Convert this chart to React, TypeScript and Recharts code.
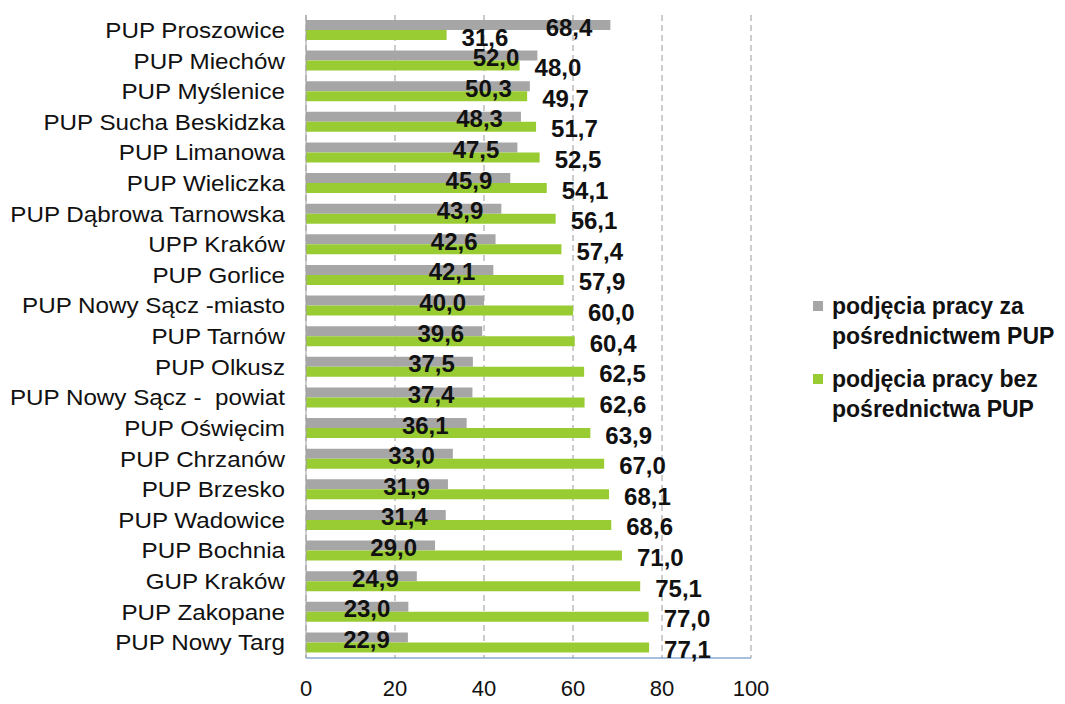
import React from 'react';
import { BarChart, Bar, XAxis, YAxis, CartesianGrid, LabelList } from 'recharts';

const offices = [
  'PUP Proszowice', 'PUP Miechów', 'PUP Myślenice', 'PUP Sucha Beskidzka', 'PUP Limanowa',
  'PUP Wieliczka', 'PUP Dąbrowa Tarnowska', 'UPP Kraków', 'PUP Gorlice', 'PUP Nowy Sącz -miasto',
  'PUP Tarnów', 'PUP Olkusz', 'PUP Nowy Sącz -  powiat', 'PUP Oświęcim', 'PUP Chrzanów',
  'PUP Brzesko', 'PUP Wadowice', 'PUP Bochnia', 'GUP Kraków', 'PUP Zakopane', 'PUP Nowy Targ',
];

const viaPup = [68.4, 52.0, 50.3, 48.3, 47.5, 45.9, 43.9, 42.6, 42.1, 40.0, 39.6, 37.5, 37.4, 36.1, 33.0, 31.9, 31.4, 29.0, 24.9, 23.0, 22.9];
const withoutPup = [31.6, 48.0, 49.7, 51.7, 52.5, 54.1, 56.1, 57.4, 57.9, 60.0, 60.4, 62.5, 62.6, 63.9, 67.0, 68.1, 68.6, 71.0, 75.1, 77.0, 77.1];

const xTicks = [0, 20, 40, 60, 80, 100];

const seriesNames = ['podjęcia pracy za pośrednictwem PUP', 'podjęcia pracy bez pośrednictwa PUP'];
const legendLines = [
  ['podjęcia pracy za', 'pośrednictwem PUP'],
  ['podjęcia pracy bez', 'pośrednictwa PUP'],
];

const GREY = '#A6A6A6';
const GREEN = '#99CC33';
const FONT = '"Liberation Sans", Arial, sans-serif';

const data = offices.map((name, i) => ({ name, via: viaPup[i], without: withoutPup[i] }));

const fmt = (v: number) => v.toFixed(1).replace('.', ',');

// Data labels: grey ones sit inside the bar end, green ones just past it
const GreyLabel = (props: any) => {
  const { x, y, width, height, value } = props;
  return (
    <text x={x + width - 18} y={y + height / 2 + 2} textAnchor="end" dominantBaseline="central"
      fontFamily={FONT} fontSize={24} fontWeight="bold" fill="#111">
      {fmt(value)}
    </text>
  );
};

const GreenLabel = (props: any) => {
  const { x, y, width, height, value } = props;
  return (
    <text x={x + width + 15} y={y + height / 2 + 2} textAnchor="start" dominantBaseline="central"
      fontFamily={FONT} fontSize={24} fontWeight="bold" fill="#111">
      {fmt(value)}
    </text>
  );
};

const CategoryTick = (props: any) => {
  const { x, y, payload } = props;
  return (
    <text transform={`translate(${x - 13},${y}) scale(1.1,1)`} x={0} y={0} textAnchor="end"
      dominantBaseline="central" fontFamily={FONT} fontSize={22} fill="#111" style={{ whiteSpace: 'pre' }}>
      {payload.value}
    </text>
  );
};

const ValueTick = (props: any) => {
  const { x, y, payload } = props;
  return (
    <text x={x} y={y + 22} textAnchor="middle" dominantBaseline="central"
      fontFamily={FONT} fontSize={22} fill="#111">
      {payload.value}
    </text>
  );
};

export default function App() {
  return (
    <div style={{ position: 'absolute', left: 0, top: 0, width: 1065, height: 704, background: '#fff' }}>
      <BarChart
        width={1065}
        height={704}
        data={data}
        layout="vertical"
        margin={{ top: 15, right: 314, bottom: 0, left: 0 }}
        barGap={0}
        barSize={10}
      >
        <CartesianGrid horizontal={false} stroke="#9a9a9a" strokeDasharray="6 4" />
        <XAxis
          type="number"
          domain={[0, 100]}
          ticks={xTicks}
          height={46}
          axisLine={{ stroke: '#4F81BD' }}
          tickLine={false}
          tick={<ValueTick />}
        />
        <YAxis
          type="category"
          dataKey="name"
          width={306}
          axisLine={{ stroke: '#A0A0A0' }}
          tickLine={false}
          interval={0}
          tick={<CategoryTick />}
        />
        <Bar dataKey="via" name={seriesNames[0]} fill={GREY} isAnimationActive={false}>
          <LabelList dataKey="via" content={<GreyLabel />} />
        </Bar>
        <Bar dataKey="without" name={seriesNames[1]} fill={GREEN} isAnimationActive={false}>
          <LabelList dataKey="without" content={<GreenLabel />} />
        </Bar>
      </BarChart>
      <div style={{ position: 'absolute', left: 813, top: 291, fontFamily: FONT, fontSize: 23, fontWeight: 'bold', color: '#111' }}>
        {legendLines.map((lines, i) => (
          <div key={i} style={{ display: 'flex', alignItems: 'flex-start', marginBottom: i === 0 ? 13 : 0 }}>
            <div style={{ width: 10, height: 10, background: i === 0 ? GREY : GREEN, marginTop: 10, marginRight: 9 }} />
            <div style={{ lineHeight: '30px' }}>
              {lines.map((l, j) => <div key={j}>{l}</div>)}
            </div>
          </div>
        ))}
      </div>
    </div>
  );
}
